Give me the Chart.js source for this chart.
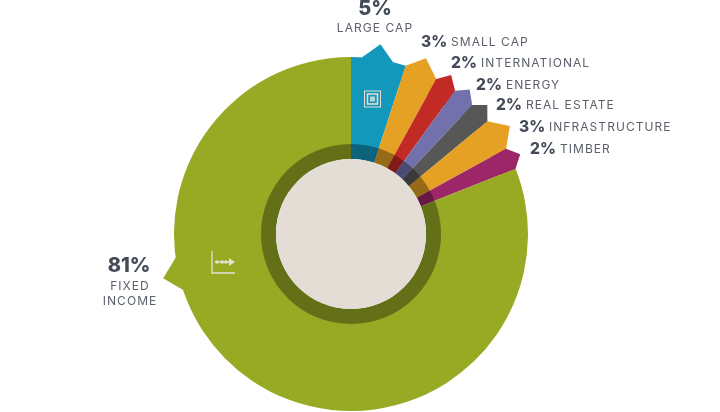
<!DOCTYPE html>
<html>
<head>
<meta charset="utf-8">
<style>
  html, body { margin: 0; padding: 0; background: #fff; }
  #wrap { position: relative; width: 720px; height: 412px; }
</style>
<script src="https://cdn.jsdelivr.net/npm/chart.js@4/dist/chart.umd.min.js"></script>
</head>
<body>
<div id="wrap"><canvas id="grafico"></canvas></div>
<script>
const categorias = ['LARGE CAP', 'SMALL CAP', 'INTERNATIONAL', 'ENERGY', 'REAL ESTATE', 'INFRASTRUCTURE', 'TIMBER', 'FIXED INCOME'];
const valores = [5, 3, 2, 2, 2, 3, 2, 81];
const cores = ['#1298bb', '#e5a124', '#c22a26', '#7371ab', '#575757', '#e5a124', '#9c2668', '#98aa24'];

// pointer on the rim of each slice: start, peak, end (fraction of the slice) and lift
const pontas = [
  [0.2, 0.49, 0.76, 1.085],
  [0, 0.47, 1, 1.08],
  [0, 0.47, 1, 1.062],
  [0, 0.47, 1, 1.057],
  [0, 0.47, 1, 1.06],
  [0, 0.5, 1, 1.085],
  [0, 0.49, 1, 1.057],
  [0.628, 0.646, 0.665, 1.09]
];

// label placement: x of the percent, x of the name, y
const rotulos = [
  [421, 451, 42.5],
  [451, 481, 63.5],
  [476, 506, 85.5],
  [496, 526, 105.5],
  [519, 549, 127.5],
  [530, 560, 149.5]
];

const corTexto = '#434a58';
const corNome = '#5b606b';
const corIcone = '#e6e0d8';

function polar(arc, ang, r) {
  return [arc.x + r * Math.cos(ang), arc.y + r * Math.sin(ang)];
}

const pontasPlugin = {
  id: 'pontas',
  beforeDatasetsDraw(chart) {
    const ctx = chart.ctx;
    chart.getDatasetMeta(0).data.forEach((arc, i) => {
      const p = pontas[i];
      const span = arc.endAngle - arc.startAngle;
      const a0 = arc.startAngle + span * p[0];
      const a1 = arc.startAngle + span * p[1];
      const a2 = arc.startAngle + span * p[2];
      const r = arc.outerRadius;
      ctx.fillStyle = cores[i];
      ctx.beginPath();
      ctx.moveTo(...polar(arc, a0, r * 0.9));
      ctx.lineTo(...polar(arc, a0, r));
      ctx.lineTo(...polar(arc, a1, r * p[3]));
      ctx.lineTo(...polar(arc, a2, r));
      ctx.lineTo(...polar(arc, a2, r * 0.9));
      ctx.closePath();
      ctx.fill();
    });
  },
  afterDatasetsDraw(chart) {
    const ctx = chart.ctx;
    const arc = chart.getDatasetMeta(0).data[0];
    const rIn = arc.innerRadius;
    // dark ring over the slices, then the paper disc in the middle
    ctx.fillStyle = 'rgba(0,0,0,0.34)';
    ctx.beginPath();
    ctx.arc(arc.x, arc.y, rIn * 1.2, 0, Math.PI * 2);
    ctx.arc(arc.x, arc.y, rIn, 0, Math.PI * 2, true);
    ctx.fill();
    ctx.fillStyle = '#e3ddd6';
    ctx.beginPath();
    ctx.arc(arc.x, arc.y, rIn, 0, Math.PI * 2);
    ctx.fill();
    desenharIcones(ctx, arc.x, arc.y);
    desenharTextos(ctx);
  }
};

function desenharIcones(ctx, cx, cy) {
  ctx.strokeStyle = corIcone;
  ctx.fillStyle = corIcone;
  // squares on the large cap slice
  const qx = cx + 21.5, qy = cy - 135;
  ctx.lineWidth = 1;
  ctx.strokeRect(qx - 8, qy - 8, 16, 16);
  ctx.lineWidth = 1.5;
  ctx.strokeRect(qx - 5, qy - 5, 10, 10);
  ctx.globalAlpha = 0.8;
  ctx.fillRect(qx - 2.5, qy - 2.5, 5, 5);
  ctx.globalAlpha = 1;
  // axes with arrow on the fixed income slice
  const ix = cx - 139, iy = cy + 39;
  ctx.lineWidth = 1.3;
  ctx.beginPath();
  ctx.moveTo(ix, iy - 22);
  ctx.lineTo(ix, iy);
  ctx.lineTo(ix + 23, iy);
  ctx.moveTo(ix + 3, iy - 11);
  ctx.lineTo(ix + 18, iy - 11);
  ctx.stroke();
  ctx.beginPath();
  ctx.moveTo(ix + 23, iy - 11);
  ctx.lineTo(ix + 17, iy - 15);
  ctx.lineTo(ix + 17, iy - 7);
  ctx.closePath();
  ctx.fill();
  [5, 10, 14].forEach(d => {
    ctx.beginPath();
    ctx.arc(ix + d, iy - 11, 1.8, 0, Math.PI * 2);
    ctx.fill();
  });
}

function escrever(ctx, txt, x, y, fonte, cor, align, esp) {
  ctx.font = fonte;
  ctx.fillStyle = cor;
  ctx.textAlign = align;
  ctx.textBaseline = 'middle';
  ctx.letterSpacing = esp;
  ctx.fillText(txt, x, y);
  ctx.letterSpacing = '0px';
}

function desenharTextos(ctx) {
  const fontePct = '800 15.5px Inter';
  const fonteNome = '12px Inter';
  escrever(ctx, valores[0] + '%', 375, 9, '800 20px Inter', corTexto, 'center', '0px');
  escrever(ctx, categorias[0], 375, 28.5, fonteNome, corNome, 'center', '1.05px');
  rotulos.forEach((r, i) => {
    escrever(ctx, valores[i + 1] + '%', r[0], r[2], fontePct, corTexto, 'left', '0px');
    escrever(ctx, categorias[i + 1], r[1], r[2], fonteNome, corNome, 'left', '1.05px');
  });
  const partes = categorias[7].split(' ');
  escrever(ctx, valores[7] + '%', 129, 265.5, '800 20px Inter', corTexto, 'center', '0px');
  escrever(ctx, partes[0], 130, 286.5, fonteNome, corNome, 'center', '1.05px');
  escrever(ctx, partes[1], 130, 301.5, fonteNome, corNome, 'center', '1.05px');
}

new Chart(document.getElementById('grafico').getContext('2d'), {
  type: 'doughnut',
  data: {
    labels: categorias,
    datasets: [{
      data: valores,
      backgroundColor: cores,
      borderWidth: 0,
      hoverOffset: 0
    }]
  },
  options: {
    responsive: true,
    maintainAspectRatio: false,
    animation: false,
    cutout: '42.4%',
    layout: { padding: { top: 57, bottom: 1, left: 0, right: 18 } },
    events: [],
    plugins: { legend: { display: false }, tooltip: { enabled: false } }
  },
  plugins: [pontasPlugin]
});
</script>
</body>
</html>
